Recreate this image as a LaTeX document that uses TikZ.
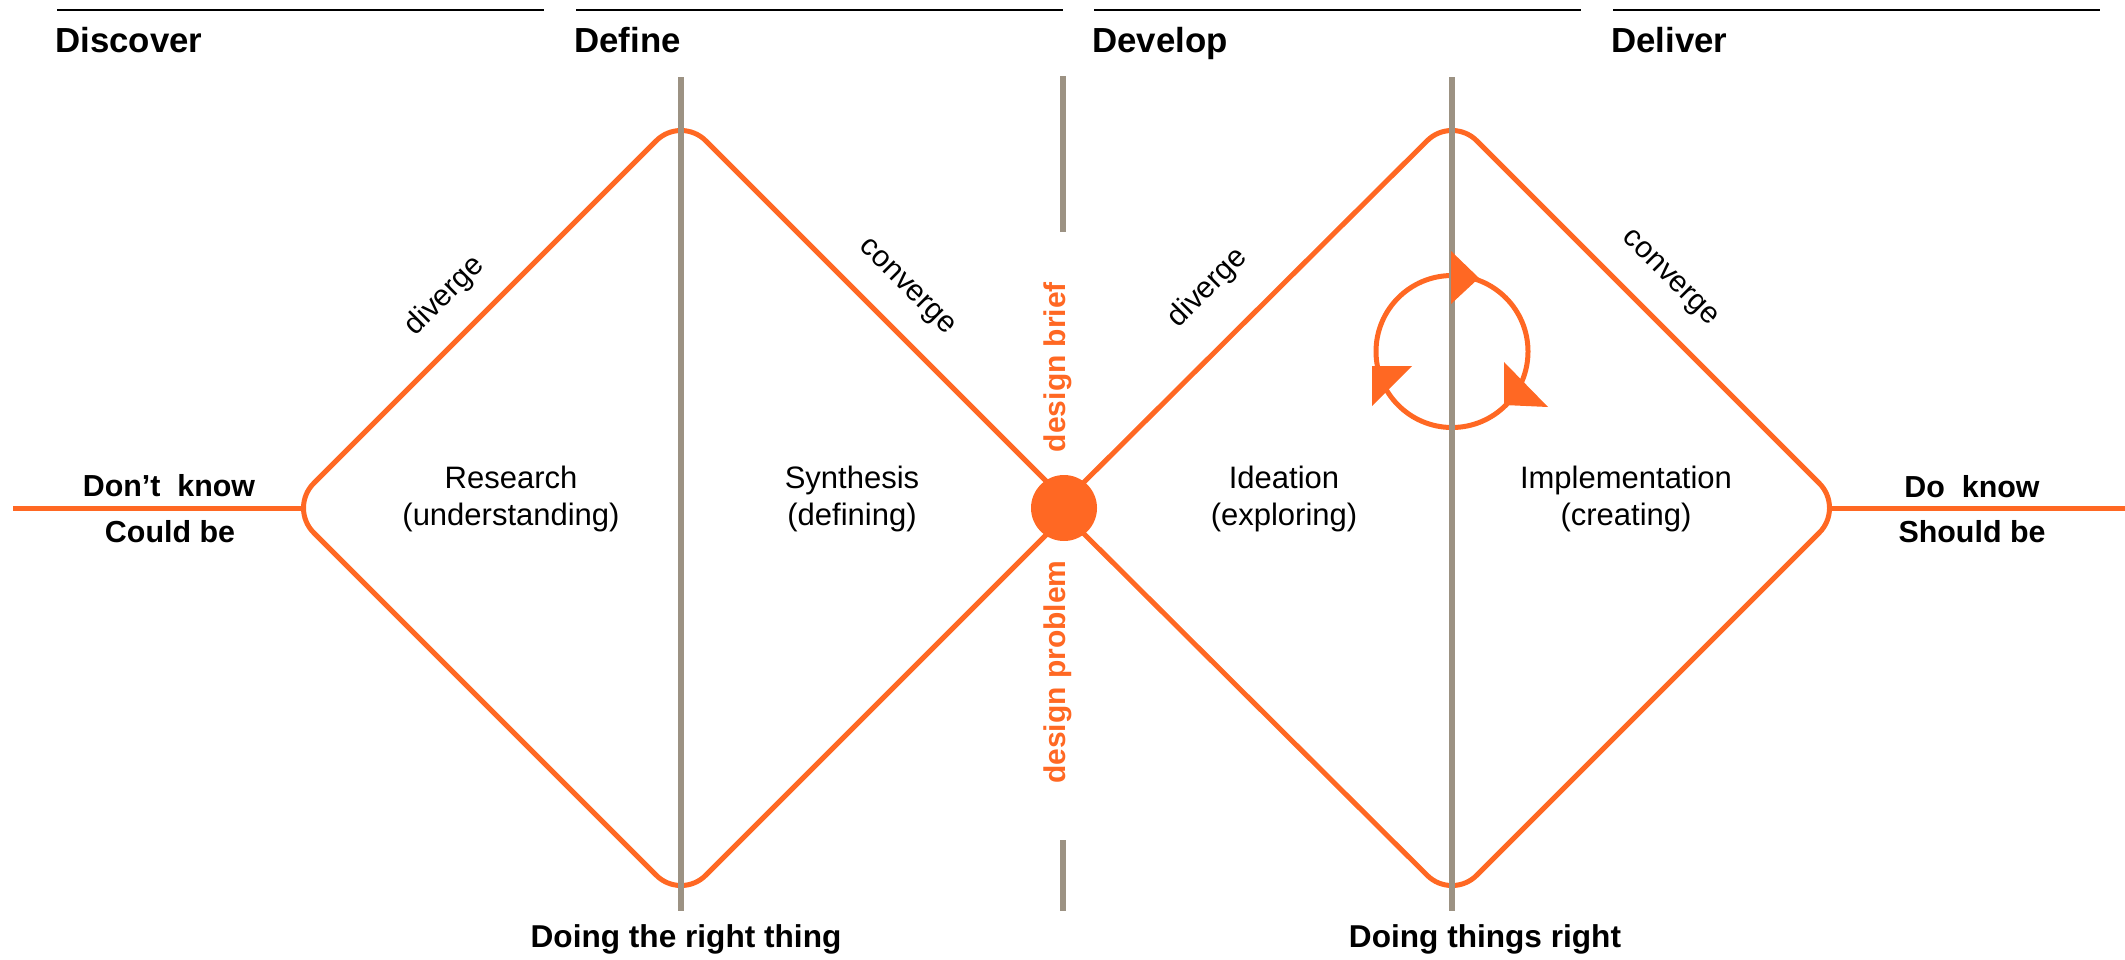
\documentclass[tikz,border=0pt]{standalone}
\usepackage{fontspec}
\setmainfont{Liberation Sans}
\definecolor{dorange}{RGB}{255,104,35}
\definecolor{dgray}{RGB}{156,146,131}
\begin{document}
\begin{tikzpicture}[x=0.5pt,y=-0.5pt,
  ol/.style={draw=dorange,line width=2.5pt},
  gl/.style={draw=dgray,line width=2.6pt},
  hl/.style={draw=black,line width=1.4pt},
  head/.style={font=\fontsize{17.4}{20}\selectfont\bfseries,anchor=base west,inner sep=0pt},
  lab/.style={font=\fontsize{15.2}{18}\selectfont\bfseries,anchor=base,inner sep=0pt},
  botlab/.style={font=\fontsize{15.8}{18}\selectfont\bfseries,anchor=base,inner sep=0pt},
  body/.style={font=\fontsize{15.5}{18}\selectfont,anchor=base,inner sep=0pt},
  diag/.style={font=\fontsize{15}{17}\selectfont,inner sep=0pt},
  brief/.style={font=\fontsize{15}{18}\selectfont\bfseries,text=dorange,rotate=90,inner sep=0pt},
  tipfill/.style={fill=dorange,draw=none}]
\useasboundingbox (0,0) rectangle (2125,959);

% header rules and titles
\draw[hl] (57,10) -- (544,10);
\draw[hl] (576,10) -- (1063,10);
\draw[hl] (1094,10) -- (1581,10);
\draw[hl] (1613,10) -- (2100,10);
\node[head] (h1) at (55,52) {Discover};
\node[head] (h2) at (574,52) {Define};
\node[head] (h3) at (1092,52) {Develop};
\node[head] (h4) at (1611,52) {Deliver};

% diamond vertices
\coordinate (d1L) at (289,508);
\coordinate (d1T) at (681,116);
\coordinate (d1R) at (1073,508);
\coordinate (d1B) at (681,900);
\coordinate (d2L) at (1058,508);
\coordinate (d2T) at (1452,116);
\coordinate (d2R) at (1844,508);
\coordinate (d2B) at (1452,900);
\coordinate (inA) at (13,508);
\coordinate (inB) at (303.5,508);
\coordinate (outA) at (1829.5,508);
\coordinate (outB) at (2125,508);

\draw[ol,rounded corners=17.5pt] (d1R) -- (d1T) -- (d1L) -- (d1B) -- (d1R);
\draw[ol,rounded corners=17.5pt] (d2L) -- (d2T) -- (d2R) -- (d2B) -- (d2L);
\draw[ol] (inA) -- (inB);
\draw[ol] (outA) -- (outB);

% iteration cycle
\coordinate (cyc) at (1452,351.5);
\draw[ol] (cyc) circle[radius=38pt];

% gray dividers
\coordinate (g1a) at (681,77);   \coordinate (g1b) at (681,911);
\coordinate (g2a) at (1063,76);  \coordinate (g2b) at (1063,232);
\coordinate (g2c) at (1063,840); \coordinate (g2d) at (1063,911);
\coordinate (g3a) at (1452,77);  \coordinate (g3b) at (1452,911);
\draw[gl] (g1a) -- (g1b);
\draw[gl] (g2a) -- (g2b);
\draw[gl] (g2c) -- (g2d);
\draw[gl] (g3a) -- (g3b);

% hub
\node[circle,fill=dorange,minimum size=33pt,inner sep=0pt] (hub) at (1064,508) {};

% arrowheads on the cycle
\fill[tipfill] (1451,251) -- (1451,304) -- (1479,278) -- cycle;
\fill[tipfill] (1504,362) -- (1504,405) -- (1548,407) -- cycle;
\fill[tipfill] (1372,366) -- (1412,366) -- (1372,406) -- cycle;

% side labels
\node[lab] (dk) at (169,496) {Don’t\ \ know};
\node[lab] (cb) at (170,542) {Could be};
\node[lab] (dok) at (1972,497) {Do\ \ know};
\node[lab] (sb) at (1972,542) {Should be};

% phase texts
\node[body] (r1) at (511,488) {Research};
\node[body] (r2) at (511,525) {(understanding)};
\node[body] (s1) at (852,488) {Synthesis};
\node[body] (s2) at (852,525) {(defining)};
\node[body] (i1) at (1284,488) {Ideation};
\node[body] (i2) at (1284,525) {(exploring)};
\node[body] (m1) at (1626,488) {Implementation};
\node[body] (m2) at (1626,525) {(creating)};

% diagonal labels
\node[diag,rotate=45] (dv1) at (445,296) {diverge};
\node[diag,rotate=-45] (cv1) at (906,288) {converge};
\node[diag,rotate=45] (dv2) at (1208,288) {diverge};
\node[diag,rotate=-45] (cv2) at (1669,279) {converge};

% design brief / problem
\node[brief] (db) at (1058,367) {design brief};
\node[brief] (dp) at (1058,672) {design problem};

% bottom labels
\node[botlab] (b1) at (686,947) {Doing the right thing};
\node[botlab] (b2) at (1485,947) {Doing things right};
\end{tikzpicture}
\end{document}
